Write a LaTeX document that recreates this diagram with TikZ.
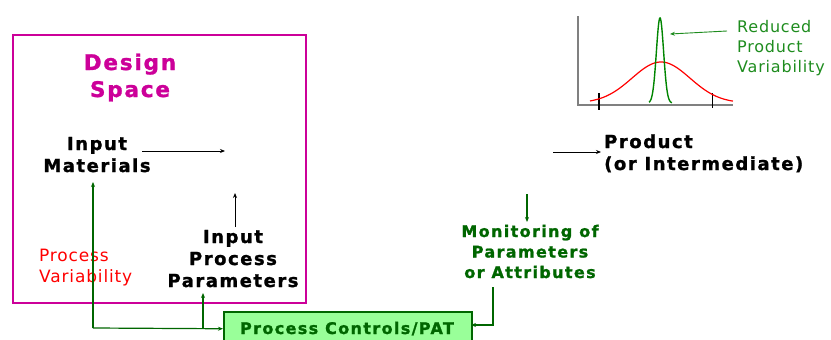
\documentclass[tikz,border=0pt]{standalone}
\usepackage{fontspec}
\setmainfont{DejaVu Sans}[LetterSpace=8.5,BoldFeatures={FakeBold=1.3}]
\newfontfamily\vr{DejaVu Sans}[LetterSpace=5]
\usetikzlibrary{arrows.meta}
\definecolor{mag}{HTML}{CC0099}
\definecolor{dgreen}{HTML}{006600}
\definecolor{lgreen}{HTML}{99FF99}
\definecolor{mgreen}{HTML}{1E8C1E}
\definecolor{axisgray}{HTML}{808080}
\begin{document}
\begin{tikzpicture}[x=1pt,y=-1pt,
  lbl/.style={font=\bfseries\fontsize{18}{22}\selectfont, align=center, inner sep=0pt},
  blk/.style={-{Stealth[length=5pt,width=4pt]}, line width=0.9pt, black},
  garr/.style={-{Stealth[length=5pt,width=4pt]}, line width=1.2pt, dgreen}]
\useasboundingbox (0,0) rectangle (831,340);
% design space box
\draw[mag, line width=2pt] (13,35) rectangle (306,303);
\node[font=\bfseries\fontsize{21.5}{27}\selectfont, text=mag, align=center, inner sep=0pt, anchor=base] (ds) at (130,97) {Design\\Space};
\node[lbl, anchor=base] (im) at (97,172) {Input\\Materials};
\node[lbl, anchor=base] (ipp) at (233,287) {Input\\Process\\Parameters};
\node[font=\vr\fontsize{17}{21}\selectfont, text=red, align=left, inner sep=0pt, anchor=base west] (pv) at (39,282) {Process\\Variability};
\node[lbl, align=left, anchor=base west] (prod) at (604,170) {Product\\(or Intermediate)};
\node[font=\bfseries\fontsize{16}{20.5}\selectfont, align=center, inner sep=0pt, text=dgreen, anchor=base] (mon) at (530,278) {Monitoring of\\Parameters\\or Attributes};
\node[draw=dgreen, fill=lgreen, line width=1.5pt, minimum width=248pt, minimum height=34pt, anchor=north west, inner sep=0pt] (pc) at (223,311) {};
\node[font=\bfseries\fontsize{16}{20}\selectfont, text=dgreen, inner sep=0pt, anchor=base] (pct) at (347,334) {Process Controls/PAT};
% black arrows
\coordinate (a1s) at (142,151);
\coordinate (a1e) at (225,151);
\draw[blk] (a1s) -- (a1e);
\coordinate (a2s) at (235,227);
\coordinate (a2e) at (235,193);
\draw[blk] (a2s) -- (a2e);
\coordinate (a3s) at (553,152);
\coordinate (a3e) at (601,152);
\draw[blk] (a3s) -- (a3e);
% green arrows
\coordinate (a4s) at (527,194);
\coordinate (a4e) at (527,222);
\draw[garr] (a4s) -- (a4e);
\coordinate (g0) at (93,328);
\coordinate (g1) at (93,182);
\coordinate (g2) at (203,328);
\coordinate (g3) at (203,293);
\draw[garr] (g0) -- (g1);
\draw[garr] (g0) -- (pc.west);
\draw[garr] (g2) -- (g3);
\coordinate (m0) at (493,287);
\coordinate (m1) at (493,325);
\coordinate (m2) at (471,325);
\draw[garr] (m0) -- (m1) -- (m2);
% graph
\coordinate (ax0) at (578,105);
\coordinate (axy) at (578,16);
\coordinate (axx) at (733,105);
\draw[axisgray, line width=1.2pt] (axy) -- (ax0) -- (axx);
\draw[black, line width=1.4pt] (599,93) -- (599,110);
\draw[black, line width=1pt] (712,93) -- (712,108);
\draw[red, line width=1.2pt] plot[domain=590:733, samples=120] (\x, {103-41*exp(-0.5*pow((\x-661)/29,2))});
\draw[dgreen!80!green, line width=1.4pt] plot[domain=649:672, samples=80] (\x, {103-85*exp(-0.5*pow((\x-660)/3.6,2))});
\node[font=\vr\fontsize{16}{20}\selectfont, text=mgreen, align=left, inner sep=0pt, anchor=base west] (rpv) at (737,72) {Reduced\\Product\\Variability};
\coordinate (r0) at (727,31);
\coordinate (r1) at (670,34);
\draw[-{Stealth[length=5pt,width=4pt]}, line width=0.9pt, mgreen] (r0) -- (r1);
\end{tikzpicture}
\end{document}
